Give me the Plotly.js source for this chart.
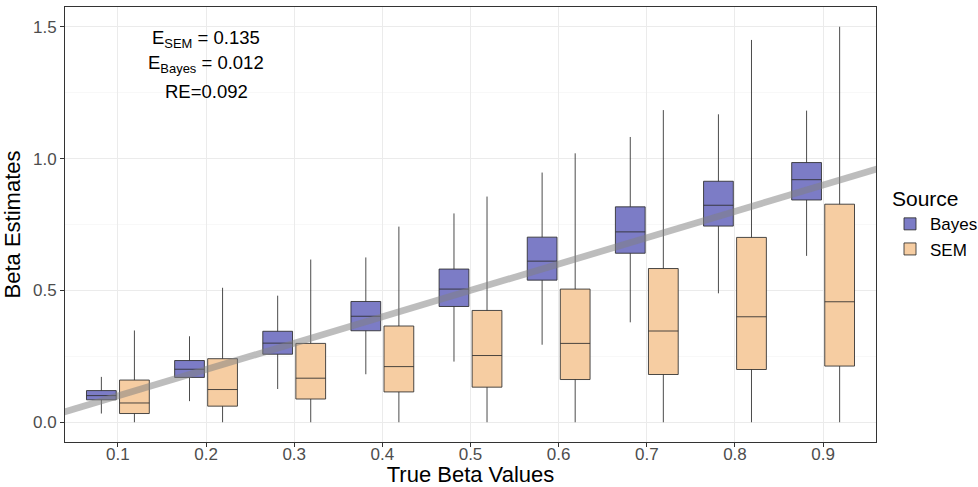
<!DOCTYPE html>
<html>
<head>
<meta charset="utf-8">
<script src="https://cdn.plot.ly/plotly-3.0.1.min.js"></script>
<style>html,body{margin:0;padding:0;background:#fff;}#chart{width:978px;height:487px;}</style>
</head>
<body>
<div id="chart"></div>
<script>
// Categories (true beta values)
const categories = ["0.1","0.2","0.3","0.4","0.5","0.6","0.7","0.8","0.9"];

// Bayes box statistics
const bayesLower  = [0.033, 0.080, 0.126, 0.182, 0.230, 0.294, 0.379, 0.489, 0.631];
const bayesQ1     = [0.085, 0.170, 0.258, 0.347, 0.439, 0.539, 0.641, 0.744, 0.843];
const bayesMedian = [0.101, 0.201, 0.300, 0.402, 0.505, 0.611, 0.722, 0.823, 0.920];
const bayesQ3     = [0.120, 0.234, 0.345, 0.458, 0.581, 0.702, 0.817, 0.914, 0.985];
const bayesUpper  = [0.172, 0.326, 0.480, 0.625, 0.792, 0.947, 1.082, 1.168, 1.182];

// SEM box statistics
const semLower  = [0.000, 0.000, 0.000, 0.000, 0.000, 0.000, 0.000, 0.000, 0.000];
const semQ1     = [0.033, 0.061, 0.088, 0.115, 0.133, 0.162, 0.181, 0.200, 0.213];
const semMedian = [0.073, 0.124, 0.167, 0.211, 0.253, 0.299, 0.346, 0.400, 0.457];
const semQ3     = [0.160, 0.241, 0.299, 0.365, 0.424, 0.505, 0.583, 0.701, 0.827];
const semUpper  = [0.348, 0.510, 0.617, 0.742, 0.856, 1.020, 1.184, 1.450, 1.500];

// Reference line y = x
const refX = [0, 1];
const refY = [0, 1];

// Annotation texts, anchored at category "0.2"
const annCategory = "0.2";
const annTexts = ["E<sub>SEM</sub> = 0.135", "E<sub>Bayes</sub> = 0.012", "RE=0.092"];
const annY = [1.452, 1.358, 1.255];

const font = "Liberation Sans, Arial, Helvetica, sans-serif";
const lineCol = "rgba(45,45,45,0.85)";

const traces = [
  {
    type: "box", name: "Bayes", x: categories,
    lowerfence: bayesLower, q1: bayesQ1, median: bayesMedian, q3: bayesQ3, upperfence: bayesUpper,
    boxpoints: false, whiskerwidth: 0,
    fillcolor: "#7c7cc6", line: {color: lineCol, width: 1},
    hoverinfo: "skip"
  },
  {
    type: "box", name: "SEM", x: categories,
    lowerfence: semLower, q1: semQ1, median: semMedian, q3: semQ3, upperfence: semUpper,
    boxpoints: false, whiskerwidth: 0,
    fillcolor: "#f6cda2", line: {color: lineCol, width: 1},
    hoverinfo: "skip"
  },
  {
    type: "scatter", mode: "lines", x: refX, y: refY, xaxis: "x2", yaxis: "y",
    line: {color: "rgba(128,128,128,0.52)", width: 6.7},
    showlegend: false, hoverinfo: "skip"
  }
];

const layout = {
  width: 978, height: 487,
  margin: {l: 65, r: 102, t: 7, b: 45},
  paper_bgcolor: "#fff", plot_bgcolor: "#fff",
  font: {family: font, color: "#000"},
  boxmode: "group", boxgap: 0.25, boxgroupgap: 0.1,
  showlegend: true,
  xaxis: {
    type: "category", range: [-0.6, 8.6],
    showgrid: true, gridcolor: "#ebebeb", gridwidth: 1,
    showline: true, linecolor: "#333", linewidth: 1, mirror: true,
    ticks: "outside", ticklen: 4, tickcolor: "#333", tickwidth: 1,
    ticklabelstandoff: -7,
    tickfont: {size: 17, color: "#4d4d4d", family: font},
    title: {text: "True Beta Values", font: {size: 22, color: "#000", family: font}},
    zeroline: false, automargin: false
  },
  xaxis2: {
    overlaying: "x", range: [0.04, 0.96], visible: false, showgrid: false, zeroline: false
  },
  yaxis: {
    range: [-0.075, 1.575], tickvals: [0, 0.5, 1.0, 1.5], ticktext: ["0.0","0.5","1.0","1.5"],
    showgrid: true, gridcolor: "#ebebeb", gridwidth: 1,
    minor: {tickvals: [0.25, 0.75, 1.25], showgrid: true, gridcolor: "#f3f3f3", gridwidth: 0.6, ticks: ""},
    showline: true, linecolor: "#333", linewidth: 1, mirror: true,
    ticks: "outside", ticklen: 4, tickcolor: "#333", tickwidth: 1,
    tickfont: {size: 17, color: "#4d4d4d", family: font},
    title: {text: "Beta Estimates", font: {size: 22, color: "#000", family: font}},
    zeroline: false, automargin: false
  },
  legend: {
    xref: "container", yref: "container",
    x: 890 / 978, xanchor: "left", y: 1 - 179 / 487, yanchor: "top",
    title: {text: "Source", font: {size: 21, color: "#000", family: font}},
    font: {size: 17, color: "#000", family: font},
    bgcolor: "rgba(0,0,0,0)"
  },
  annotations: annTexts.map((t, i) => ({
    x: categories.indexOf(annCategory), y: annY[i], xref: "x", yref: "y", text: t, showarrow: false,
    xanchor: "center", yanchor: "middle",
    font: {size: 18.5, color: "#000", family: font}
  }))
};

Plotly.newPlot("chart", traces, layout, {displayModeBar: false, staticPlot: true});
</script>
</body>
</html>
